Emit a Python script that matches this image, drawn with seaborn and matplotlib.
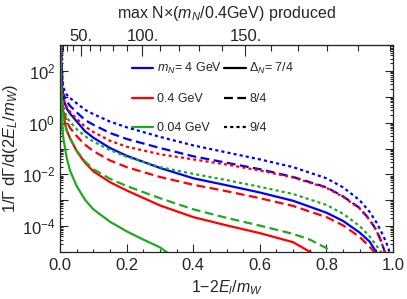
import numpy as np
import pandas as pd
import matplotlib
matplotlib.use("Agg")
import matplotlib.pyplot as plt
import matplotlib.ticker as mticker
from matplotlib.lines import Line2D
import seaborn as sns

# ---------------- data (y given as log10 values) ----------------
masses = ["4 GeV", "0.4 GeV", "0.04 GeV"]
deltas = ["7/4", "8/4", "9/4"]

x_b7 = [0.003, 0.005, 0.008, 0.01, 0.02, 0.03, 0.05, 0.075, 0.1, 0.15, 0.2, 0.3, 0.4, 0.5, 0.6, 0.7, 0.8, 0.85, 0.9, 0.93, 0.952]
ly_b7 = [3.1, 1.6, 1.1, 0.9, 0.55, 0.35, 0.05, -0.33, -0.58, -0.98, -1.28, -1.75, -2.15, -2.42, -2.7, -3.02, -3.48, -3.8, -4.25, -4.6, -5.05]

x_b8 = [0.003, 0.005, 0.008, 0.01, 0.02, 0.03, 0.05, 0.075, 0.1, 0.15, 0.2, 0.3, 0.4, 0.5, 0.6, 0.7, 0.8, 0.85, 0.9, 0.93, 0.95, 0.965, 0.978]
ly_b8 = [3.3, 1.8, 1.25, 1.1, 0.82, 0.65, 0.4, 0.1, -0.08, -0.4, -0.63, -0.98, -1.3, -1.55, -1.8, -2.1, -2.5, -2.85, -3.3, -3.75, -4.15, -4.6, -5.1]

x_b9 = [0.003, 0.005, 0.008, 0.01, 0.02, 0.03, 0.05, 0.075, 0.1, 0.15, 0.2, 0.3, 0.4, 0.5, 0.6, 0.7, 0.8, 0.85, 0.9, 0.93, 0.95, 0.97, 0.985, 0.993]
ly_b9 = [3.5, 2.1, 1.55, 1.35, 1.08, 0.95, 0.75, 0.5, 0.33, 0.04, -0.18, -0.55, -0.88, -1.15, -1.42, -1.72, -2.15, -2.5, -3.0, -3.45, -3.85, -4.35, -4.8, -5.2]

x_r7 = [0.0008, 0.002, 0.005, 0.01, 0.02, 0.03, 0.05, 0.075, 0.1, 0.15, 0.2, 0.3, 0.4, 0.5, 0.6, 0.7, 0.758]
ly_r7 = [3.0, 1.6, 0.8, 0.25, -0.3, -0.6, -1.1, -1.55, -1.88, -2.3, -2.62, -3.2, -3.65, -3.97, -4.27, -4.62, -5.05]

x_r8 = [0.0015, 0.003, 0.005, 0.01, 0.02, 0.03, 0.05, 0.075, 0.1, 0.15, 0.2, 0.3, 0.4, 0.5, 0.6, 0.7, 0.8, 0.85, 0.9, 0.93, 0.947]
ly_r8 = [3.0, 1.5, 1.0, 0.45, 0.05, -0.2, -0.52, -0.85, -1.1, -1.46, -1.72, -2.1, -2.4, -2.65, -2.92, -3.22, -3.65, -3.97, -4.42, -4.8, -5.05]

x_r9 = [0.0015, 0.003, 0.005, 0.01, 0.02, 0.03, 0.05, 0.075, 0.1, 0.15, 0.2, 0.3, 0.4, 0.5, 0.6, 0.7, 0.8, 0.85, 0.9, 0.93, 0.95, 0.965, 0.978]
ly_r9 = [3.3, 2.0, 1.4, 0.95, 0.62, 0.42, 0.15, -0.15, -0.36, -0.7, -0.93, -1.22, -1.42, -1.62, -1.85, -2.12, -2.52, -2.87, -3.32, -3.77, -4.17, -4.62, -5.1]

x_g7 = [0.0005, 0.002, 0.005, 0.01, 0.02, 0.03, 0.05, 0.075, 0.1, 0.15, 0.2, 0.25, 0.3, 0.325]
ly_g7 = [3.0, 1.2, 0.1, -0.6, -1.35, -1.85, -2.45, -2.98, -3.35, -3.83, -4.2, -4.52, -4.82, -5.05]

x_g8 = [0.0008, 0.002, 0.005, 0.01, 0.02, 0.03, 0.05, 0.075, 0.1, 0.15, 0.2, 0.3, 0.4, 0.5, 0.6, 0.7, 0.75, 0.8, 0.818]
ly_g8 = [3.0, 1.6, 0.8, 0.25, -0.3, -0.6, -1.08, -1.5, -1.8, -2.17, -2.45, -2.92, -3.35, -3.68, -3.98, -4.3, -4.52, -4.85, -5.05]

x_g9 = [0.001, 0.003, 0.005, 0.01, 0.02, 0.03, 0.05, 0.075, 0.1, 0.15, 0.2, 0.3, 0.4, 0.5, 0.6, 0.7, 0.8, 0.85, 0.9, 0.93, 0.95, 0.967]
ly_g9 = [3.0, 1.6, 1.1, 0.6, 0.22, 0.03, -0.25, -0.52, -0.73, -1.06, -1.32, -1.72, -1.98, -2.22, -2.48, -2.76, -3.18, -3.52, -4.0, -4.4, -4.75, -5.05]

top_major = [50, 100, 150]
top_labels = ["50.", "100.", "150."]
top_minor = [10, 20, 30, 40, 60, 70, 80, 90, 110, 120, 130, 140, 160, 170, 180, 190, 200]
mw_over_04 = 201.0   # m_W / 0.4 GeV

# ---------------- build long table ----------------
curves = [
    ("4 GeV", "7/4", x_b7, ly_b7), ("4 GeV", "8/4", x_b8, ly_b8), ("4 GeV", "9/4", x_b9, ly_b9),
    ("0.4 GeV", "7/4", x_r7, ly_r7), ("0.4 GeV", "8/4", x_r8, ly_r8), ("0.4 GeV", "9/4", x_r9, ly_r9),
    ("0.04 GeV", "7/4", x_g7, ly_g7), ("0.04 GeV", "8/4", x_g8, ly_g8), ("0.04 GeV", "9/4", x_g9, ly_g9),
]
rows = []
for m, d, xs, lys in curves:
    for xv, lv in zip(xs, lys):
        rows.append({"mass": m, "delta": d, "x": xv, "y": 10.0 ** lv})
df = pd.DataFrame(rows)

# ---------------- style ----------------
sns.set_style("ticks")
plt.rcParams["font.family"] = ["Liberation Sans", "DejaVu Sans"]
plt.rcParams["mathtext.fontset"] = "custom"
plt.rcParams["mathtext.rm"] = "Liberation Sans"
plt.rcParams["mathtext.it"] = "Liberation Sans:italic"
plt.rcParams["mathtext.bf"] = "Liberation Sans:bold"

palette = {"4 GeV": "#0000ff", "0.4 GeV": "#ff0000", "0.04 GeV": "#1eaa1e"}
dashes = {"7/4": "", "8/4": (4, 2), "9/4": (1.4, 1.4)}

fig = plt.figure(figsize=(4.07, 2.99), dpi=100)
ax = fig.add_axes([60 / 407, 1 - 252 / 299, 333 / 407, 207 / 299])

sns.lineplot(data=df, x="x", y="y", hue="mass", style="delta",
             hue_order=masses, style_order=deltas, palette=palette, dashes=dashes,
             estimator=None, legend=False, lw=1.6, ax=ax)

ax.set_yscale("log")
ax.set_xlim(0, 1)
ax.set_ylim(1e-5, 1e3)

# y ticks
ax.yaxis.set_major_locator(mticker.FixedLocator([10.0 ** k for k in range(-5, 4)]))
def yfmt(v, pos):
    k = int(round(np.log10(v)))
    if k in (-4, -2, 0, 2):
        return r"$10^{%d}$" % k
    return ""
ax.yaxis.set_major_formatter(mticker.FuncFormatter(yfmt))
ax.yaxis.set_minor_locator(mticker.LogLocator(base=10, subs=np.arange(2, 10), numticks=20))
ax.yaxis.set_minor_formatter(mticker.NullFormatter())

# x ticks
ax.xaxis.set_major_locator(mticker.MultipleLocator(0.2))
ax.xaxis.set_minor_locator(mticker.MultipleLocator(0.05))
ax.xaxis.set_major_formatter(mticker.FormatStrFormatter("%.1f"))

ax.tick_params(which="both", direction="in", top=False, right=True, labelsize=12, width=0.8)
ax.tick_params(which="major", length=5.5)
ax.tick_params(which="minor", length=2.5)
ax.tick_params(axis="x", pad=4)
for s in ax.spines.values():
    s.set_linewidth(0.9)

ax.set_xlabel(r"1$-$2$E_l$/$m_W$", fontsize=11.5, labelpad=4)
ax.set_ylabel(r"1/$\Gamma$ d$\Gamma$/d(2$E_L$/$m_W$)", fontsize=12, labelpad=1)

# top axis: N as function of x
def fwd(x):
    return mw_over_04 * np.sqrt(np.clip(x, 0, None))
def inv(n):
    return (np.asarray(n) / mw_over_04) ** 2
sec = ax.secondary_xaxis("top", functions=(fwd, inv))
sec.set_xticks(top_major)
sec.set_xticklabels(top_labels)
sec.xaxis.set_minor_locator(mticker.FixedLocator(top_minor))
sec.tick_params(which="both", direction="in", labelsize=12, width=0.8, pad=0.5)
sec.tick_params(which="major", length=8)
sec.tick_params(which="minor", length=4)
sec.set_xlabel(r"max N$\times$($m_N$/0.4GeV) produced", fontsize=11.5, labelpad=8)

# legend
col_handles = [Line2D([], [], color=palette[m], lw=1.6) for m in masses]
sty_handles = [Line2D([], [], color="black", lw=1.6, ls="-"),
               Line2D([], [], color="black", lw=1.6, dashes=dashes["8/4"]),
               Line2D([], [], color="black", lw=1.6, dashes=dashes["9/4"])]
labels = [r"$m_N$= 4 GeV", "0.4 GeV", "0.04 GeV", r"$\Delta_N$= 7/4", "8/4", "9/4"]
leg = ax.legend(col_handles + sty_handles, labels, ncol=2, frameon=False, fontsize=9,
                loc="upper left", bbox_to_anchor=(0.2, 0.945), handlelength=1.75,
                handletextpad=0.3, columnspacing=0.1, labelspacing=1.35, borderaxespad=0)

fig.savefig("out.png", dpi=100)
